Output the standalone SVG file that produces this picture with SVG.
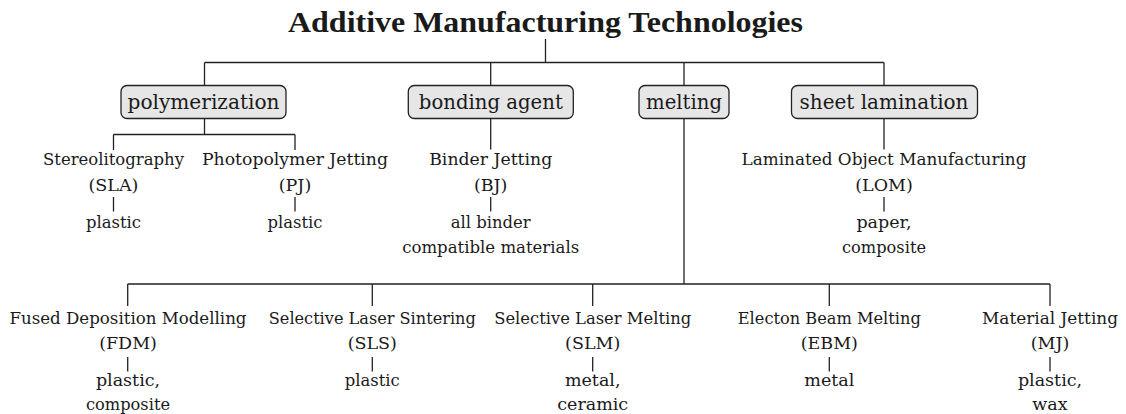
<svg xmlns="http://www.w3.org/2000/svg" width="1126" height="414" viewBox="0 0 1126 414">
  <style>
    text { fill: #1a1a1a; text-anchor: middle; }
    .title { font-family: 'Liberation Serif', serif; font-weight: bold; font-size: 30px; }
    .cat { font-family: 'DejaVu Serif', serif; font-size: 20.5px; }
    .lbl { font-family: 'DejaVu Serif', serif; font-size: 17.5px; }
    .box { fill: #e6e6e6; stroke: #222; stroke-width: 1.3; }
    .wire { fill: none; stroke: #222; stroke-width: 1.3; }
  </style>
  <rect width="1126" height="414" fill="#ffffff"/>

  <!-- connectors -->
  <g id="connectors" class="wire">
    <!-- root to categories -->
    <path d="M545.5 39V62.5M204.5 62.5H884M204.5 62.5V85.5M490.7 62.5V85.5M684 62.5V85.5M884 62.5V85.5"/>
    <!-- polymerization branch -->
    <path d="M204.5 118.5V134.5M113.5 134.5H295M113.5 134.5V150M295 134.5V150"/>
    <!-- bonding agent / sheet lamination -->
    <path d="M490.7 118.5V149.5M884 118.5V149.5"/>
    <!-- melting branch -->
    <path d="M684 118.5V284M127.7 284H1050M127.7 284V306M372.3 284V306M592.7 284V306M829.3 284V306M1050 284V306"/>
    <!-- process to material ticks -->
    <path d="M113.5 197V211.5M295 197V211.5M490.7 197V211.5M884 197V211.5"/>
    <path d="M127.7 357V371.5M372.3 357V371.5M592.7 357V371.5M829.3 357V371.5M1050 357V371.5"/>
  </g>

  <g id="root">
    <text class="title" x="545.5" y="32" textLength="515" lengthAdjust="spacingAndGlyphs">Additive Manufacturing Technologies</text>
  </g>

  <!-- categories -->
  <g id="polymerization">
    <rect class="box" x="121" y="85.5" width="165" height="33" rx="6"/>
    <text class="cat" x="203.5" y="109" textLength="152" lengthAdjust="spacingAndGlyphs">polymerization</text>
  </g>
  <g id="bonding-agent">
    <rect class="box" x="408.3" y="85.5" width="165" height="33" rx="6"/>
    <text class="cat" x="490.8" y="109" textLength="144" lengthAdjust="spacingAndGlyphs">bonding agent</text>
  </g>
  <g id="melting">
    <rect class="box" x="639" y="85.5" width="90" height="33" rx="6"/>
    <text class="cat" x="684" y="109" textLength="76" lengthAdjust="spacingAndGlyphs">melting</text>
  </g>
  <g id="sheet-lamination">
    <rect class="box" x="791.5" y="85.5" width="186" height="33" rx="6"/>
    <text class="cat" x="884" y="109" textLength="169" lengthAdjust="spacingAndGlyphs">sheet lamination</text>
  </g>

  <!-- processes, upper row -->
  <g id="sla">
    <text class="lbl" x="113.5" y="165" textLength="141" lengthAdjust="spacingAndGlyphs">Stereolitography</text>
    <text class="lbl" x="113.5" y="191">(SLA)</text>
    <text class="lbl" x="113.5" y="227.5" textLength="55" lengthAdjust="spacingAndGlyphs">plastic</text>
  </g>
  <g id="pj">
    <text class="lbl" x="295" y="165" textLength="186" lengthAdjust="spacingAndGlyphs">Photopolymer Jetting</text>
    <text class="lbl" x="295" y="191">(PJ)</text>
    <text class="lbl" x="295" y="227.5" textLength="55" lengthAdjust="spacingAndGlyphs">plastic</text>
  </g>
  <g id="bj">
    <text class="lbl" x="490.7" y="165" textLength="123" lengthAdjust="spacingAndGlyphs">Binder Jetting</text>
    <text class="lbl" x="490.7" y="191">(BJ)</text>
    <text class="lbl" x="490.7" y="227.5" textLength="80" lengthAdjust="spacingAndGlyphs">all binder</text>
    <text class="lbl" x="490.7" y="252.5" textLength="177" lengthAdjust="spacingAndGlyphs">compatible materials</text>
  </g>
  <g id="lom">
    <text class="lbl" x="884" y="165" textLength="285" lengthAdjust="spacingAndGlyphs">Laminated Object Manufacturing</text>
    <text class="lbl" x="884" y="191">(LOM)</text>
    <text class="lbl" x="884" y="227.5">paper,</text>
    <text class="lbl" x="884" y="252.5" textLength="84" lengthAdjust="spacingAndGlyphs">composite</text>
  </g>

  <!-- processes, lower row -->
  <g id="fdm">
    <text class="lbl" x="128" y="323.5" textLength="237" lengthAdjust="spacingAndGlyphs">Fused Deposition Modelling</text>
    <text class="lbl" x="128" y="348.5">(FDM)</text>
    <text class="lbl" x="128" y="386">plastic,</text>
    <text class="lbl" x="128" y="409.5" textLength="84" lengthAdjust="spacingAndGlyphs">composite</text>
  </g>
  <g id="sls">
    <text class="lbl" x="372.3" y="323.5" textLength="207" lengthAdjust="spacingAndGlyphs">Selective Laser Sintering</text>
    <text class="lbl" x="372.3" y="348.5">(SLS)</text>
    <text class="lbl" x="372.3" y="386" textLength="55" lengthAdjust="spacingAndGlyphs">plastic</text>
  </g>
  <g id="slm">
    <text class="lbl" x="592.7" y="323.5" textLength="197" lengthAdjust="spacingAndGlyphs">Selective Laser Melting</text>
    <text class="lbl" x="592.7" y="348.5">(SLM)</text>
    <text class="lbl" x="592.7" y="386">metal,</text>
    <text class="lbl" x="592.7" y="409.5">ceramic</text>
  </g>
  <g id="ebm">
    <text class="lbl" x="829.3" y="323.5" textLength="183" lengthAdjust="spacingAndGlyphs">Electon Beam Melting</text>
    <text class="lbl" x="829.3" y="348.5">(EBM)</text>
    <text class="lbl" x="829.3" y="386">metal</text>
  </g>
  <g id="mj">
    <text class="lbl" x="1050" y="323.5" textLength="136" lengthAdjust="spacingAndGlyphs">Material Jetting</text>
    <text class="lbl" x="1050" y="348.5">(MJ)</text>
    <text class="lbl" x="1050" y="386">plastic,</text>
    <text class="lbl" x="1050" y="409.5">wax</text>
  </g>
</svg>
